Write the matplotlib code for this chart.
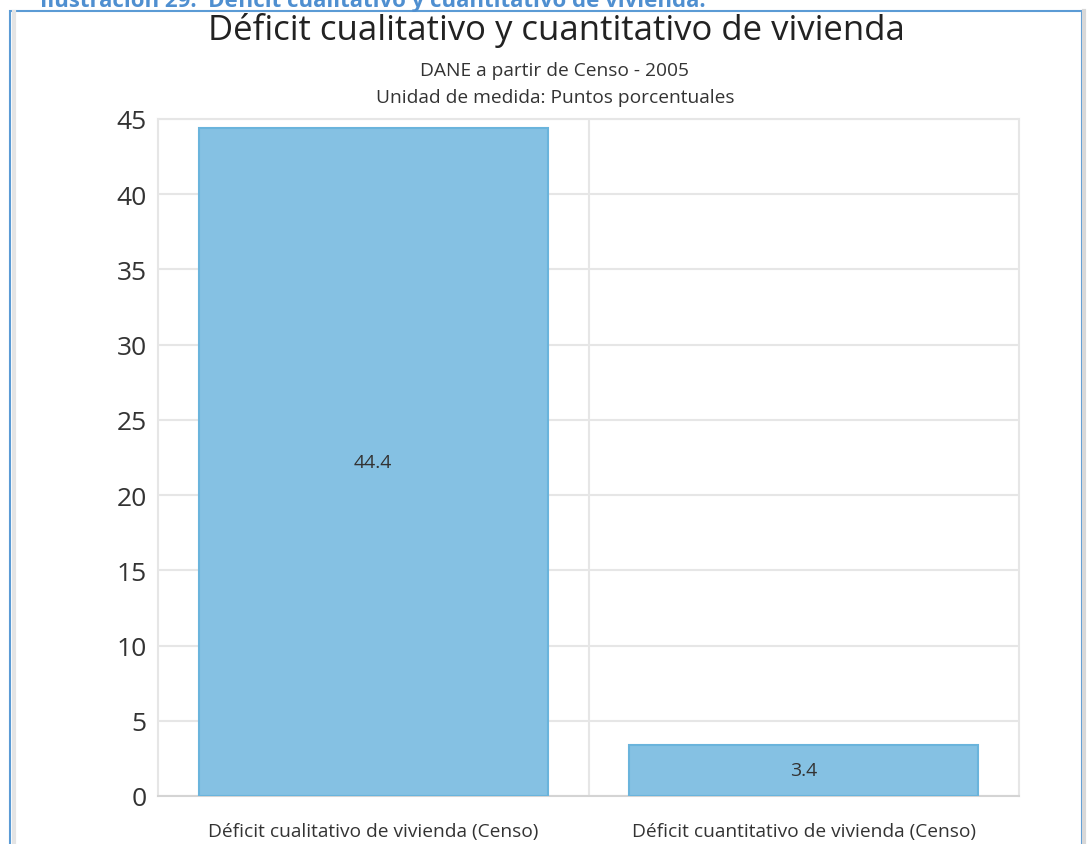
import matplotlib.pyplot as plt
from matplotlib.patches import Rectangle
from matplotlib.lines import Line2D

plt.rcParams['font.family'] = ['Open Sans', 'DejaVu Sans']

# Data
categories = ['Déficit cualitativo de vivienda (Censo)',
              'Déficit cuantitativo de vivienda (Censo)']
values = [44.4, 3.4]
value_labels = ['44.4', '3.4']
yticks = [0, 5, 10, 15, 20, 25, 30, 35, 40, 45]

W, H = 1088, 845
fig = plt.figure(figsize=(W / 100, H / 100), dpi=100)
fig.patch.set_facecolor('white')

# axes placed in pixel units of the reference
left, right, top, bottom = 158, 1019, 120, 797
ax = fig.add_axes([left / W, 1 - bottom / H, (right - left) / W, (bottom - top) / H])

x = list(range(len(categories)))
bars = ax.bar(x, values, width=0.81, color='#85C1E3', edgecolor='#6AB4DC',
              linewidth=1.5, zorder=3)

for b, v, lab in zip(bars, values, value_labels):
    ax.text(b.get_x() + b.get_width() / 2, v / 2, lab, ha='center', va='center',
            fontsize=14, color='#333333', zorder=4)

ax.set_xlim(-0.5, 1.5)
ax.set_ylim(0, 45)
ax.set_yticks(yticks)
ax.set_yticklabels([str(t) for t in yticks], fontsize=19, color='#333333')
ax.set_xticks(x)
ax.set_xticklabels(categories, fontsize=13.8, color='#333333')
ax.tick_params(axis='both', length=0)
ax.tick_params(axis='y', pad=8)
ax.tick_params(axis='x', pad=19)

ax.yaxis.grid(True, color='#E6E6E6', linewidth=1.5, zorder=0)
ax.axvline(0.5, color='#E6E6E6', linewidth=1.5, zorder=0)
for s in ['top', 'left', 'right']:
    ax.spines[s].set_color('#E6E6E6')
    ax.spines[s].set_linewidth(1.5)
ax.spines['bottom'].set_color('#D4D4D4')
ax.spines['bottom'].set_linewidth(1.5)

# titles
fig.text(556 / W, 1 - 30 / H, 'Déficit cualitativo y cuantitativo de vivienda',
         ha='center', va='center', fontsize=25, color='#222222')
fig.text(555 / W, 1 - 71 / H, 'DANE a partir de Censo - 2005',
         ha='center', va='center', fontsize=13.8, color='#333333')
fig.text(555 / W, 1 - 98 / H, 'Unidad de medida: Puntos porcentuales',
         ha='center', va='center', fontsize=13.8, color='#333333')

# cut-off document caption and frame
fig.text(40 / W, 1 - 7 / H, 'Ilustración 29.  Déficit cualitativo y cuantitativo de vivienda.',
         ha='left', va='baseline', fontsize=16, fontweight='bold', color='#4F8FD0')
fig.add_artist(Rectangle((9.5 / W, -0.05), (1082 - 9.5) / W, 1.05 - 11.5 / H,
                         transform=fig.transFigure, fill=False,
                         edgecolor='#5B9BD5', linewidth=1.5))
fig.add_artist(Line2D([13.5 / W, 13.5 / W], [0, 1 - 13 / H], transform=fig.transFigure,
                      color='#E4E4E4', linewidth=3))
fig.add_artist(Line2D([1084 / W, 1084 / W], [0, 1 - 12 / H], transform=fig.transFigure,
                      color='#D8D8D8', linewidth=3))

fig.savefig('out.png', dpi=100)
